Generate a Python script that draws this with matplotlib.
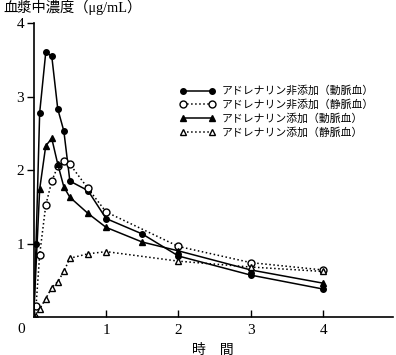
import matplotlib
matplotlib.use("Agg")
import matplotlib.pyplot as plt

plt.rcParams["font.family"] = ["Liberation Serif", "Noto Sans CJK JP", "DejaVu Sans"]

# time in hours
t_art_no = [0, 0.033, 0.083, 0.167, 0.25, 0.333, 0.417, 0.5, 0.75, 1, 1.5, 2, 3, 4]
c_art_no = [0, 0.99, 2.78, 3.60, 3.55, 2.83, 2.53, 1.85, 1.72, 1.34, 1.13, 0.83, 0.57, 0.38]

t_ven_no = [0, 0.033, 0.083, 0.167, 0.25, 0.333, 0.417, 0.5, 0.75, 1, 2, 3, 4]
c_ven_no = [0, 0.15, 0.85, 1.52, 1.85, 2.05, 2.12, 2.08, 1.75, 1.43, 0.96, 0.74, 0.64]

t_art_ad = [0, 0.083, 0.167, 0.25, 0.333, 0.417, 0.5, 0.75, 1, 1.5, 2, 3, 4]
c_art_ad = [0, 1.74, 2.33, 2.43, 2.08, 1.77, 1.63, 1.41, 1.22, 1.02, 0.90, 0.64, 0.46]

t_ven_ad = [0, 0.083, 0.167, 0.25, 0.333, 0.417, 0.5, 0.75, 1, 2, 3, 4]
c_ven_ad = [0, 0.11, 0.25, 0.40, 0.48, 0.62, 0.80, 0.86, 0.89, 0.76, 0.68, 0.62]

labels = [
    "アドレナリン非添加（動脈血）",
    "アドレナリン非添加（静脈血）",
    "アドレナリン添加（動脈血）",
    "アドレナリン添加（静脈血）",
]

fig = plt.figure(figsize=(3.96, 3.55), dpi=100)
ax = fig.add_axes([0.085, 0.107, 0.907, 0.828])

lw = 1.1
ax.plot(t_art_no, c_art_no, "-", color="black", lw=lw, marker="o",
        ms=4, mfc="black", mec="black", label=labels[0])
ax.plot(t_ven_no, c_ven_no, ":", color="black", lw=lw, marker="o",
        ms=5, mfc="white", mec="black", mew=1.0, label=labels[1])
ax.plot(t_art_ad, c_art_ad, "-", color="black", lw=lw, marker="^",
        ms=4.5, mfc="black", mec="black", label=labels[2])
ax.plot(t_ven_ad, c_ven_ad, ":", color="black", lw=lw, marker="^",
        ms=5, mfc="white", mec="black", mew=1.0, label=labels[3])

ax.set_xlim(0, 4.96)
ax.set_ylim(0, 4)
ax.spines["top"].set_visible(False)
ax.spines["right"].set_visible(False)
ax.spines["left"].set_linewidth(1.2)
ax.spines["bottom"].set_linewidth(1.2)

ax.set_xticks([1, 2, 3, 4])
ax.set_yticks([1, 2, 3, 4])
ax.tick_params(axis="x", direction="in", length=5, width=1, labelsize=11, pad=5)
ax.tick_params(axis="y", direction="out", length=5, width=1, labelsize=11, pad=2)
ax.text(-0.12, -0.08, "0", transform=ax.transData, ha="right", va="top", fontsize=11)

ax.set_xlabel("時　間", fontsize=10, family=["Noto Sans CJK JP"], labelpad=4)
fig.text(0.008, 0.978, "血漿中濃度（μg/mL）", fontsize=10.3,
         family=["Liberation Serif", "Noto Sans CJK JP"], ha="left", va="center")

ax.legend(loc="upper left", bbox_to_anchor=(0.38, 0.82), frameon=False, numpoints=2,
          handlelength=3.3, handletextpad=0.6, labelspacing=0.3,
          prop={"family": ["Noto Sans CJK JP"], "size": 7.8})

fig.savefig("out.png", dpi=100)
